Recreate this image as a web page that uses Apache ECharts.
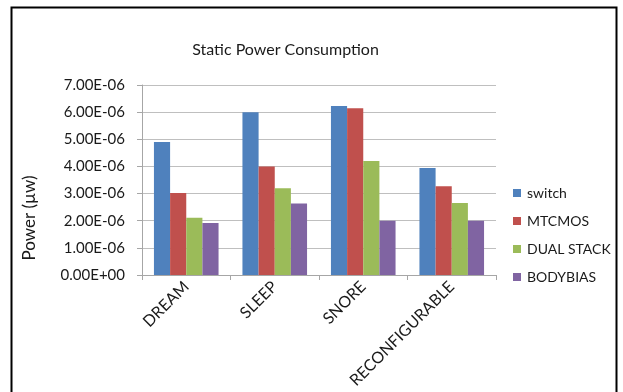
<!DOCTYPE html>
<html>
<head>
<meta charset="utf-8">
<script src="https://cdn.jsdelivr.net/npm/echarts@6/dist/echarts.min.js"></script>
<style>
  html, body { margin: 0; padding: 0; background: #ffffff; }
  #chart { width: 623px; height: 392px; }
</style>
</head>
<body>
<div id="chart"></div>
<script>
// Operating modes on the category axis
const categories = ['DREAM', 'SLEEP', 'SNORE', 'RECONFIGURABLE'];

// Static power per technique (µW)
const switchPower    = [4.90e-6, 6.00e-6, 6.23e-6, 3.94e-6];
const mtcmosPower    = [3.02e-6, 4.00e-6, 6.14e-6, 3.27e-6];
const dualStackPower = [2.11e-6, 3.20e-6, 4.20e-6, 2.65e-6];
const bodyBiasPower  = [1.92e-6, 2.63e-6, 2.00e-6, 2.00e-6];

// Value axis ticks
const yTicks = [0, 1e-6, 2e-6, 3e-6, 4e-6, 5e-6, 6e-6, 7e-6];

const FONT = 'Lato, "Liberation Sans", sans-serif';
const TEXT = '#1a1a1a';

// Spreadsheet-style scientific notation: 7.00E-06, 0.00E+00
function sci(v) {
  const s = Number(v).toExponential(2).toUpperCase();
  const m = s.match(/^(-?[\d.]+)E([+-])(\d+)$/);
  if (!m) return s;
  return m[1] + 'E' + m[2] + m[3].padStart(2, '0');
}

const chart = echarts.init(document.getElementById('chart'), null, { renderer: 'canvas' });

const seriesDefs = [
  { name: 'switch',     data: switchPower,    color: '#4F81BD' },
  { name: 'MTCMOS',     data: mtcmosPower,    color: '#C0504D' },
  { name: 'DUAL STACK', data: dualStackPower, color: '#9BBB59' },
  { name: 'BODYBIAS',   data: bodyBiasPower,  color: '#8064A2' }
];

chart.setOption({
  animation: false,
  backgroundColor: '#ffffff',
  title: {
    text: 'Static Power Consumption',
    left: 280.5,
    top: 37,
    textAlign: 'center',
    textStyle: { fontFamily: FONT, fontSize: 16, fontWeight: 'normal', color: TEXT }
  },
  legend: {
    orient: 'vertical',
    left: 508,
    top: 181,
    icon: 'rect',
    itemWidth: 8,
    itemHeight: 8,
    itemGap: 14,
    textStyle: { fontFamily: FONT, fontSize: 14, color: TEXT, lineHeight: 14, padding: [0, 0, 0, 1] },
    data: seriesDefs.map(s => s.name)
  },
  grid: {
    left: 142, right: 127, top: 85, bottom: 117,
    containLabel: false,
    outerBoundsMode: 'none'
  },
  xAxis: {
    type: 'category',
    data: categories,
    boundaryGap: true,
    axisLine: { lineStyle: { color: '#a6a6a6', width: 1 } },
    axisTick: { show: true, alignWithLabel: false, length: 5, lineStyle: { color: '#a6a6a6' } },
    axisLabel: {
      rotate: 45,
      fontFamily: FONT,
      fontSize: 16,
      color: TEXT,
      margin: 9,
      padding: [25, 0, 0, 0],
      interval: 0
    }
  },
  yAxis: {
    type: 'value',
    min: yTicks[0],
    max: yTicks[yTicks.length - 1],
    interval: yTicks[1] - yTicks[0],
    axisLine: { show: true, lineStyle: { color: '#a6a6a6', width: 1 } },
    axisTick: { show: true, length: 5, inside: false, lineStyle: { color: '#a6a6a6' } },
    splitLine: { show: true, lineStyle: { color: '#bfbfbf', width: 1 } },
    axisLabel: { fontFamily: FONT, fontSize: 15, color: TEXT, margin: 17, formatter: sci }
  },
  series: seriesDefs.map(s => ({
    name: s.name,
    type: 'bar',
    data: s.data,
    barGap: '0%',
    barCategoryGap: '27%',
    itemStyle: { color: s.color }
  })),
  graphic: [
    // outer chart frame
    {
      type: 'rect',
      shape: { x: 11.5, y: 7.5, width: 605, height: 400 },
      style: { fill: null, stroke: '#000000', lineWidth: 2 },
      z: 10
    },
    // value axis title
    {
      type: 'text',
      x: 30,
      y: 218,
      rotation: Math.PI / 2,
      style: {
        text: 'Power (µw)',
        fontFamily: FONT,
        fontSize: 17,
        fill: TEXT,
        align: 'center',
        verticalAlign: 'middle'
      }
    }
  ]
});
</script>
</body>
</html>
